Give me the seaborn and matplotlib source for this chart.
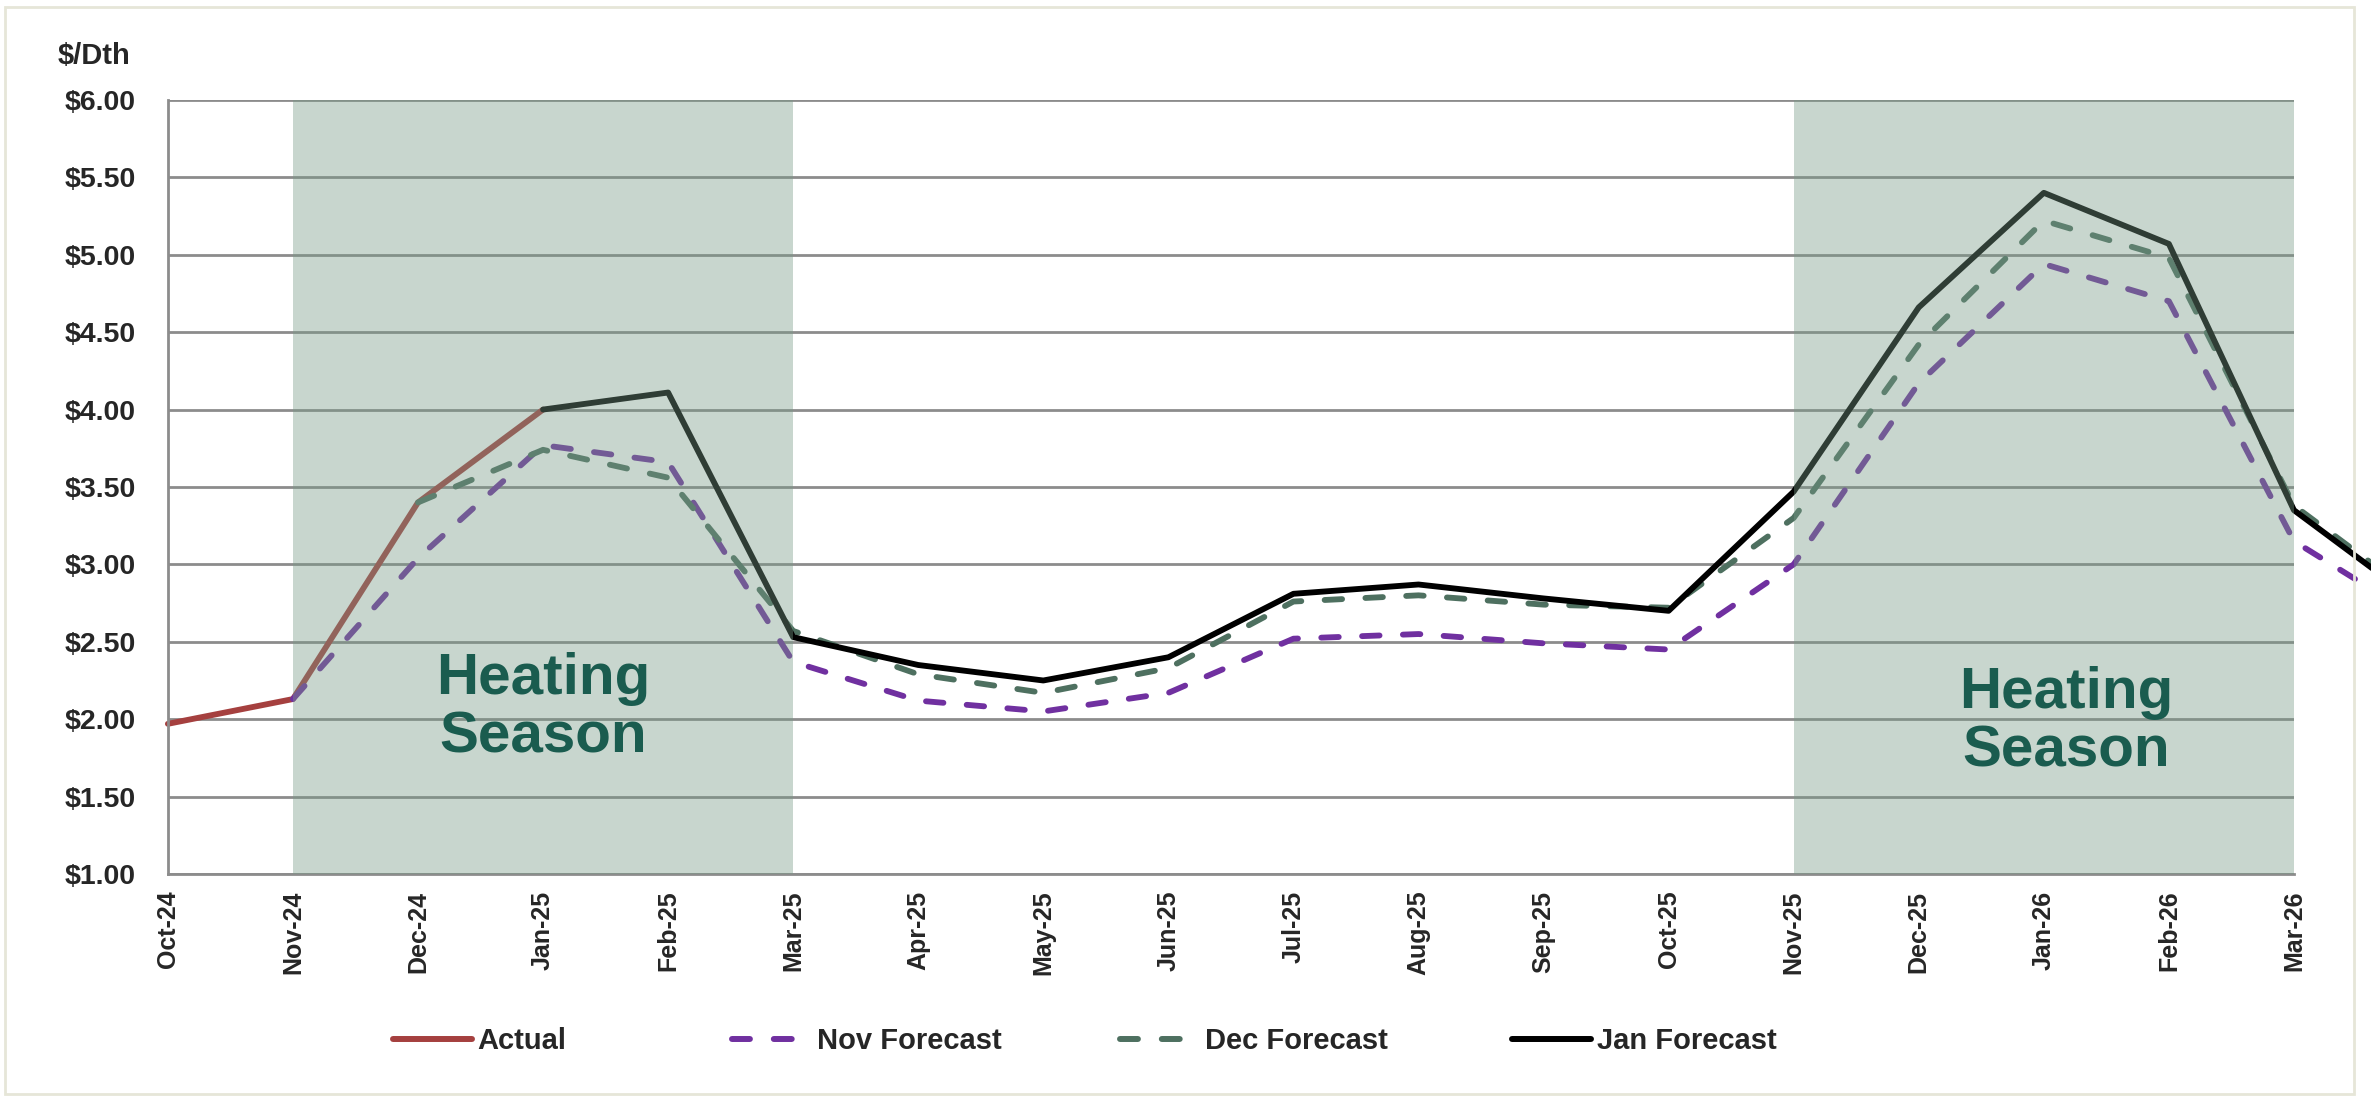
import numpy as np
import matplotlib.pyplot as plt
import matplotlib.patches as mpatches
import seaborn as sns

sns.set_style("white")
plt.rcParams['font.family'] = ['Liberation Sans', 'DejaVu Sans']

# months on the x axis (the last one runs off the right edge)
months = ['Oct-24', 'Nov-24', 'Dec-24', 'Jan-25', 'Feb-25', 'Mar-25', 'Apr-25', 'May-25',
          'Jun-25', 'Jul-25', 'Aug-25', 'Sep-25', 'Oct-25', 'Nov-25', 'Dec-25', 'Jan-26',
          'Feb-26', 'Mar-26', 'Apr-26']

# $/Dth values, each series starts at its own month
actual = [1.97, 2.13, 3.40, 4.00]
actual_start = 0
nov_fc = [2.13, 3.04, 3.77, 3.66, 2.37, 2.12, 2.05, 2.17, 2.52, 2.55, 2.49, 2.45,
          3.00, 4.17, 4.94, 4.70, 3.15, 2.65]
nov_start = 1
dec_fc = [3.40, 3.74, 3.56, 2.57, 2.29, 2.17, 2.33, 2.76, 2.80, 2.74, 2.72,
          3.30, 4.42, 5.22, 4.98, 3.38, 2.78]
dec_start = 2
jan_fc = [4.00, 4.11, 2.53, 2.35, 2.25, 2.40, 2.81, 2.87, 2.78, 2.70,
          3.47, 4.66, 5.40, 5.07, 3.35, 2.75]
jan_start = 3

heating_seasons = [('Nov-24', 'Mar-25'), ('Nov-25', 'Mar-26')]

fig = plt.figure(figsize=(23.71, 10.98), dpi=100)
ax = fig.add_axes([0.0708, 0.204, 0.8967, 0.705])

# light frame round the whole picture
fig.patches.append(mpatches.Rectangle((0.002, 0.004), 0.991, 0.99, transform=fig.transFigure,
                                      fill=False, edgecolor='#E6E6D8', linewidth=2, zorder=0))

dash = (0, (3.0, 4.0))


def draw(vals, start, label, color, ls, lw=4.2):
    x = np.arange(start, start + len(vals))
    sns.lineplot(x=x, y=vals, ax=ax, color=color, linestyle=ls, linewidth=lw,
                 label=label, clip_on=False, zorder=2, dash_capstyle='round',
                 solid_capstyle='round')


draw(actual, actual_start, 'Actual', '#A5403F', '-')
draw(nov_fc, nov_start, 'Nov Forecast', '#7030A0', dash)
draw(dec_fc, dec_start, 'Dec Forecast', '#4E7060', dash)
draw(jan_fc, jan_start, 'Jan Forecast', '#000000', '-')

# heating season shading sits over the lines, like the original
for a, b in heating_seasons:
    ax.axvspan(months.index(a), months.index(b), color='#779A86', alpha=0.4,
               linewidth=0, zorder=3)

for x, y in [(3.0, 2.07), (15.18, 1.98)]:
    ax.text(x, y, 'Heating\nSeason', ha='center', va='center', fontsize=42,
            fontweight='bold', color='#1A5C4F', linespacing=1.1, zorder=4)

ax.set_xlim(0, len(months) - 2)
ax.set_ylim(1, 6)
yt = np.arange(1, 6.01, 0.5)
ax.set_yticks(yt)
ax.set_yticklabels([f'${v:.2f}' for v in yt], fontsize=20.5, fontweight='bold')
ax.set_xticks(range(len(months) - 1))
ax.set_xticklabels(months[:-1], rotation=90, fontsize=18, fontweight='bold')
ax.grid(axis='y', color='#8C8C8C', linewidth=2)
ax.set_axisbelow(True)
for s in ['top', 'right']:
    ax.spines[s].set_visible(False)
for s in ['left', 'bottom']:
    ax.spines[s].set_color('#8C8C8C')
    ax.spines[s].set_linewidth(2)
ax.tick_params(axis='y', length=6, width=2, color='#8C8C8C', pad=17)
ax.tick_params(axis='x', length=6, width=2, color='#8C8C8C', pad=6)
ax.set_xlabel('')
ax.set_ylabel('')

fig.text(0.0245, 0.949, '$/Dth', fontsize=21, fontweight='bold', va='center', ha='left')

# legend entries sit in fixed-width slots, as in the original
ax.get_legend().remove()
handles, labels = ax.get_legend_handles_labels()
slots = [0.1658, 0.3087, 0.4724, 0.6377]
for h, l, sx in zip(handles, labels, slots):
    leg = fig.legend([h], [l], loc='center left', bbox_to_anchor=(sx, 0.052),
                     frameon=False, prop={'weight': 'bold', 'size': 21},
                     handlelength=2.7, handletextpad=0.2, borderpad=0, borderaxespad=0)
    for line in leg.get_lines():
        line.set_linewidth(4.3)

plt.savefig('out.png', dpi=100)
